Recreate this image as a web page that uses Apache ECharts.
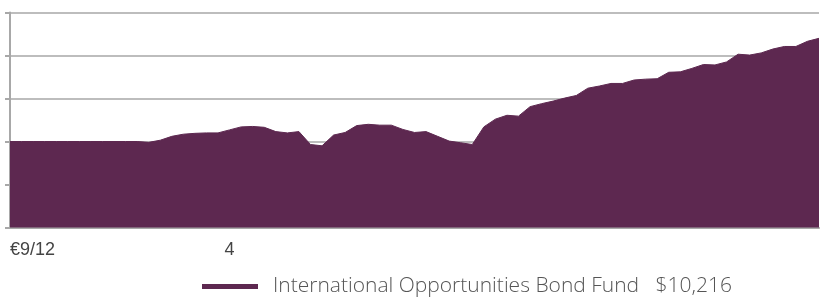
<!DOCTYPE html>
<html>
<head>
<meta charset="utf-8">
<script src="https://cdn.jsdelivr.net/npm/echarts@6/dist/echarts.min.js"></script>
<style>
html,body{margin:0;padding:0;background:#fff;}
#chart{width:822px;height:301px;}
</style>
</head>
<body>
<div id="chart"></div>
<script>
// fund growth of 10,000
var fundValues = [
    10000,10000,10000,10000,10000,10000,10000,10000,10000,10000,
    10000,10000,9998,10003,10012,10017,10019,10020,10020,10027,
    10034,10035,10033,10023,10020,10023,9993,9990,10015,10021,
    10037,10040,10038,10038,10028,10021,10023,10012,10001,9997,
    9993,10034,10052,10061,10059,10081,10088,10094,10101,10107,
    10124,10129,10135,10135,10143,10145,10146,10161,10162,10170,
    10179,10178,10185,10203,10201,10206,10215,10221,10221,10233,
    10240
];
var tickLabels = {0:'€9/12', 19:'4'};
var seriesName = 'International Opportunities Bond Fund';
var endValueText = '$10,216';
var yTicks = [9800, 10300, 100];

var categories = [];
for (var i = 0; i < fundValues.length; i++) {
    categories.push(tickLabels[i] || '');
}

var chart = echarts.init(document.getElementById('chart'));
var option = {
    animation: false,
    grid: {left: 10, right: 0, top: 12.5, bottom: 73.5},
    legend: {
        left: 202,
        top: 276,
        padding: 0,
        icon: 'rect',
        itemWidth: 56,
        itemHeight: 5,
        data: [seriesName],
        formatter: function(name){
            return name + '   ' + endValueText;
        },
        textStyle: {
            fontFamily: 'Open Sans',
            fontWeight: 300,
            fontSize: 21,
            color: '#555',
            padding: [0,0,0,10]
        }
    },
    xAxis: {
        type: 'category',
        boundaryGap: false,
        data: categories,
        axisLine: {lineStyle: {color: '#a8a8a8', width: 2}},
        axisTick: {show: false},
        axisLabel: {
            interval: 0,
            margin: 14,
            fontFamily: 'Liberation Sans',
            fontSize: 18,
            color: '#444',
            alignMinLabel: 'left'
        }
    },
    yAxis: {
        type: 'value',
        min: yTicks[0],
        max: yTicks[1],
        interval: yTicks[2],
        axisLine: {show: true, lineStyle: {color: '#a8a8a8', width: 2}},
        axisTick: {show: true, length: 5, lineStyle: {color: '#a8a8a8', width: 2}},
        axisLabel: {show: false},
        splitLine: {lineStyle: {color: '#bdbdbd', width: 2}}
    },
    series: [{
        name: seriesName,
        type: 'line',
        data: fundValues,
        symbol: 'none',
        itemStyle: {color: '#5d2850'},
        lineStyle: {color: '#5d2850', width: 1},
        areaStyle: {color: '#5d2850', opacity: 1}
    }]
};
chart.setOption(option);
</script>
</body>
</html>
